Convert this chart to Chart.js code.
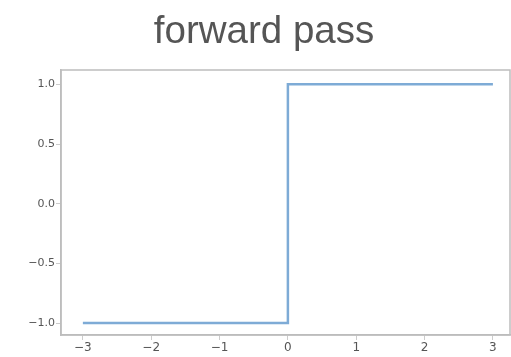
<!DOCTYPE html>
<html>
<head>
<meta charset="utf-8">
<script src="https://cdn.jsdelivr.net/npm/chart.js@4"></script>
<style>
html,body{margin:0;padding:0;background:#fff;}
#wrap{width:511px;height:357px;position:relative;}
</style>
</head>
<body>
<div id="wrap"><canvas id="c" width="511" height="357"></canvas></div>
<script>
const titleText = "forward pass";
const xValues = [-3, 0, 0, 3];
const yValues = [-1, -1, 1, 1];
const xTicks = [-3, -2, -1, 0, 1, 2, 3];
const yTicks = [-1.0, -0.5, 0.0, 0.5, 1.0];

const fmt = (v, dec) => {
  const s = Math.abs(v).toFixed(dec);
  return (v < 0 ? "\u2212" : "") + s;
};

const frame = {
  id: 'frame',
  afterDatasetsDraw(chart) {
    const a = chart.chartArea, ctx = chart.ctx;
    ctx.save();
    ctx.strokeStyle = '#bdbdbd';
    ctx.lineWidth = 1.5;
    ctx.strokeRect(a.left, a.top, a.right - a.left, a.bottom - a.top);
    ctx.restore();
  },
  afterDraw(chart) {
    const ctx = chart.ctx;
    ctx.save();
    ctx.fillStyle = '#555555';
    ctx.font = '38.5px "Liberation Sans", Arial, sans-serif';
    ctx.textAlign = 'center';
    ctx.textBaseline = 'alphabetic';
    ctx.fillText(titleText, 264, 43);
    ctx.restore();
  }
};

new Chart(document.getElementById('c'), {
  type: 'line',
  data: {
    datasets: [{
      data: xValues.map((x, i) => ({x: x, y: yValues[i]})),
      borderColor: '#7eabd6',
      borderWidth: 2.5,
      pointRadius: 0,
      tension: 0,
      fill: false
    }]
  },
  options: {
    responsive: false,
    animation: false,
    devicePixelRatio: 1,
    layout: { padding: { top: 70, right: 1, left: 0, bottom: 0 } },
    plugins: { legend: { display: false }, title: { display: false }, tooltip: { enabled: false } },
    scales: {
      x: {
        type: 'linear',
        min: -3.32,
        max: 3.25,
        afterBuildTicks: s => { s.ticks = xTicks.map(v => ({value: v})); },
        afterFit: s => { s.height = 22; },
        grid: { drawOnChartArea: false, drawTicks: true, tickLength: 5, color: '#cccccc', lineWidth: 1 },
        border: { display: true, color: '#bdbdbd', width: 1.5 },
        ticks: {
          color: '#555555',
          font: { family: '"DejaVu Sans", sans-serif', size: 12 },
          padding: 1,
          maxRotation: 0,
          autoSkip: false,
          callback: v => fmt(v, 0)
        }
      },
      y: {
        type: 'linear',
        min: -1.1,
        max: 1.12,
        afterBuildTicks: s => { s.ticks = yTicks.map(v => ({value: v})); },
        afterFit: s => { s.width = 61; },
        grid: { drawOnChartArea: false, drawTicks: true, tickLength: 5, color: '#cccccc', lineWidth: 1 },
        border: { display: true, color: '#bdbdbd', width: 1.5 },
        ticks: {
          color: '#555555',
          font: { family: '"DejaVu Sans", sans-serif', size: 11 },
          padding: 1,
          autoSkip: false,
          callback: v => fmt(v, 1)
        }
      }
    }
  },
  plugins: [frame]
});
</script>
</body>
</html>
